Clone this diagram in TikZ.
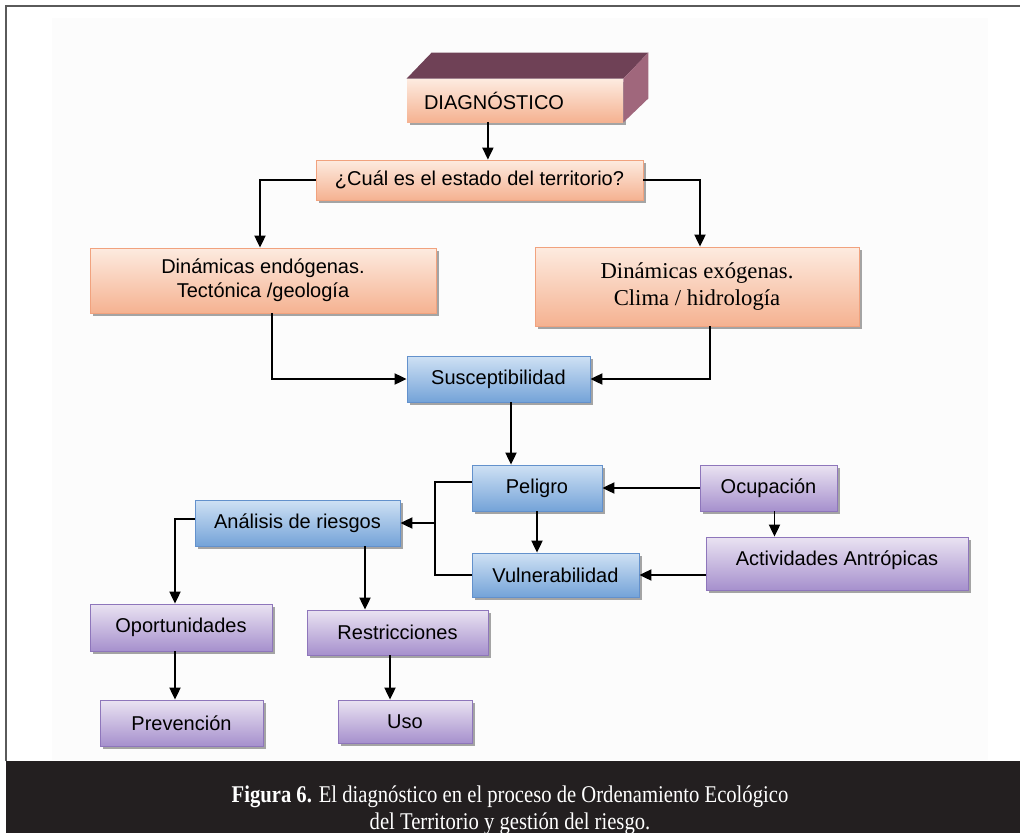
\documentclass[tikz,border=0pt]{standalone}
\usepackage{fontspec}
\setmainfont{Liberation Sans}
\newfontfamily\serifbox{Liberation Serif}
\newfontfamily\capfont[FakeStretch=0.86]{Liberation Serif}
\usetikzlibrary{arrows.meta,shadows,calc}

\definecolor{frameline}{HTML}{5A5A5A}
\definecolor{capband}{HTML}{231F20}
\definecolor{orTop}{HTML}{FDEBE0}
\definecolor{orBot}{HTML}{F5B291}
\definecolor{orLine}{HTML}{F1A27E}
\definecolor{blTop}{HTML}{CFE1F4}
\definecolor{blBot}{HTML}{74A3D8}
\definecolor{blLine}{HTML}{6391CC}
\definecolor{puTop}{HTML}{EAE3F2}
\definecolor{puBot}{HTML}{A690CD}
\definecolor{puLine}{HTML}{8E76BB}
\definecolor{cubeTop}{HTML}{6F4156}
\definecolor{cubeSide}{HTML}{A0677C}

\tikzset{
  box/.style={draw, line width=0.8pt, inner sep=0pt, align=center,
    font=\fontsize{20}{24}\selectfont,
    drop shadow={shadow xshift=3pt, shadow yshift=-3pt, fill=black!50, opacity=0.7}},
  orbox/.style={box, draw=orLine, top color=orTop, bottom color=orBot},
  blbox/.style={box, draw=blLine, top color=blTop, bottom color=blBot},
  pubox/.style={box, draw=puLine, top color=puTop, bottom color=puBot},
  arr/.style={line width=1.9pt, -{Triangle[length=12pt,width=11pt]}},
  plain/.style={line width=1.9pt}
}

\begin{document}
\begin{tikzpicture}[x=1pt,y=-1pt]
\useasboundingbox (0,0) rectangle (1020,833);
\fill[white] (0,0) rectangle (1020,833);
% faint panel behind the chart
\fill[black!1] (52,18) rectangle (988,760);
% page frame
\draw[frameline, line width=1.6pt] (6,761) -- (6,6) -- (1020,6);

% 3-D heading block
\node[box, draw=none, drop shadow={opacity=0}, top color=orTop, bottom color=orBot,
      minimum width=216pt, minimum height=43pt, text width=182pt, align=left]
      (diag) at (515,100.5) {DIAGNÓSTICO};
\fill[cubeTop] (diag.north west) -- ++(25,-26) -- ($(diag.north east)+(25,-26)$) -- (diag.north east) -- cycle;
\fill[cubeSide] (diag.north east) -- ++(25,-26) -- ($(diag.south east)+(25,-24)$) -- (diag.south east) -- cycle;

% chart boxes
\node[orbox, minimum width=327pt, minimum height=40pt] (q) at (479.5,180) {¿Cuál es el estado del territorio?};
\node[orbox, minimum width=346pt, minimum height=65pt] (endo) at (263,280.5) {Dinámicas endógenas.\\Tectónica /geología};
\node[orbox, minimum width=324pt, minimum height=79pt,
      font=\serifbox\fontsize{22.7}{27}\selectfont] (exo) at (697,286.5) {Dinámicas exógenas.\\Clima / hidrología};
\node[blbox, minimum width=183pt, minimum height=46pt] (sus) at (498.5,379) {Susceptibilidad};
\node[blbox, minimum width=130pt, minimum height=46pt] (pel) at (537,488) {Peligro};
\node[blbox, minimum width=167pt, minimum height=44pt] (vul) at (555.5,575) {Vulnerabilidad};
\node[blbox, minimum width=205pt, minimum height=46pt] (ana) at (297.5,523) {Análisis de riesgos};
\node[pubox, minimum width=137pt, minimum height=46pt] (ocu) at (768.5,488) {Ocupación};
\node[pubox, minimum width=262pt, minimum height=53pt, text depth=10pt] (act) at (837,563.5) {Actividades Antrópicas};
\node[pubox, minimum width=182pt, minimum height=47pt] (opo) at (181,627.5) {Oportunidades};
\node[pubox, minimum width=181pt, minimum height=45pt] (res) at (397.5,632.5) {Restricciones};
\node[pubox, minimum width=163pt, minimum height=46pt] (pre) at (181.5,723) {Prevención};
\node[pubox, minimum width=134pt, minimum height=43pt] (uso) at (405,721.5) {Uso};

% connectors
\coordinate (d1) at ($(diag.south west)!0.375!(diag.south east)$);
\draw[arr] (d1) -- (d1 |- q.north);
\draw[arr] (q.west) -| ($(endo.north)+(-3,0)$);
\draw[arr] (q.east) -| ($(exo.north)+(3,0)$);
\draw[arr] ($(endo.south)+(9,0)$) |- (sus.west);
\draw[arr] ($(exo.south)+(13,0)$) |- (sus.east);
\coordinate (s1) at ($(sus.south)+(12.5,0)$);
\draw[arr] (s1) -- (s1 |- pel.north);
\coordinate (jn) at ($(pel.west)+(-37,-6)$);
\draw[plain] ($(pel.west)+(0,-6)$) -- (jn) |- (vul.west);
\draw[arr] (jn |- ana.east) -- (ana.east);
\draw[arr] (pel.south) -- (pel.south |- vul.north);
\draw[arr] (ocu.west) -- (pel.east);
\coordinate (o1) at ($(ocu.south)+(6,0)$);
\draw[arr] (o1) -- (o1 |- act.north);
\draw[arr] (act.west |- vul.east) -- (vul.east);
\draw[arr] ($(ana.west)+(0,-4)$) -| ($(opo.north)+(-6,0)$);
\coordinate (a1) at ($(ana.south)+(67.5,0)$);
\draw[arr] (a1) -- (a1 |- res.north);
\coordinate (p1) at ($(opo.south)+(-6,0)$);
\draw[arr] (p1) -- (p1 |- pre.north);
\coordinate (r1) at ($(res.south)+(-7.5,0)$);
\draw[arr] (r1) -- (r1 |- uso.north);

% caption band
\fill[capband] (6,761) rectangle (1020,833);
\node[text=white, font=\capfont\fontsize{24}{27}\selectfont, align=center] (cap) at (510,810)
  {\textbf{Figura 6.} El diagnóstico en el proceso de Ordenamiento Ecológico\\del Territorio y gestión del riesgo.};
\end{tikzpicture}
\end{document}
